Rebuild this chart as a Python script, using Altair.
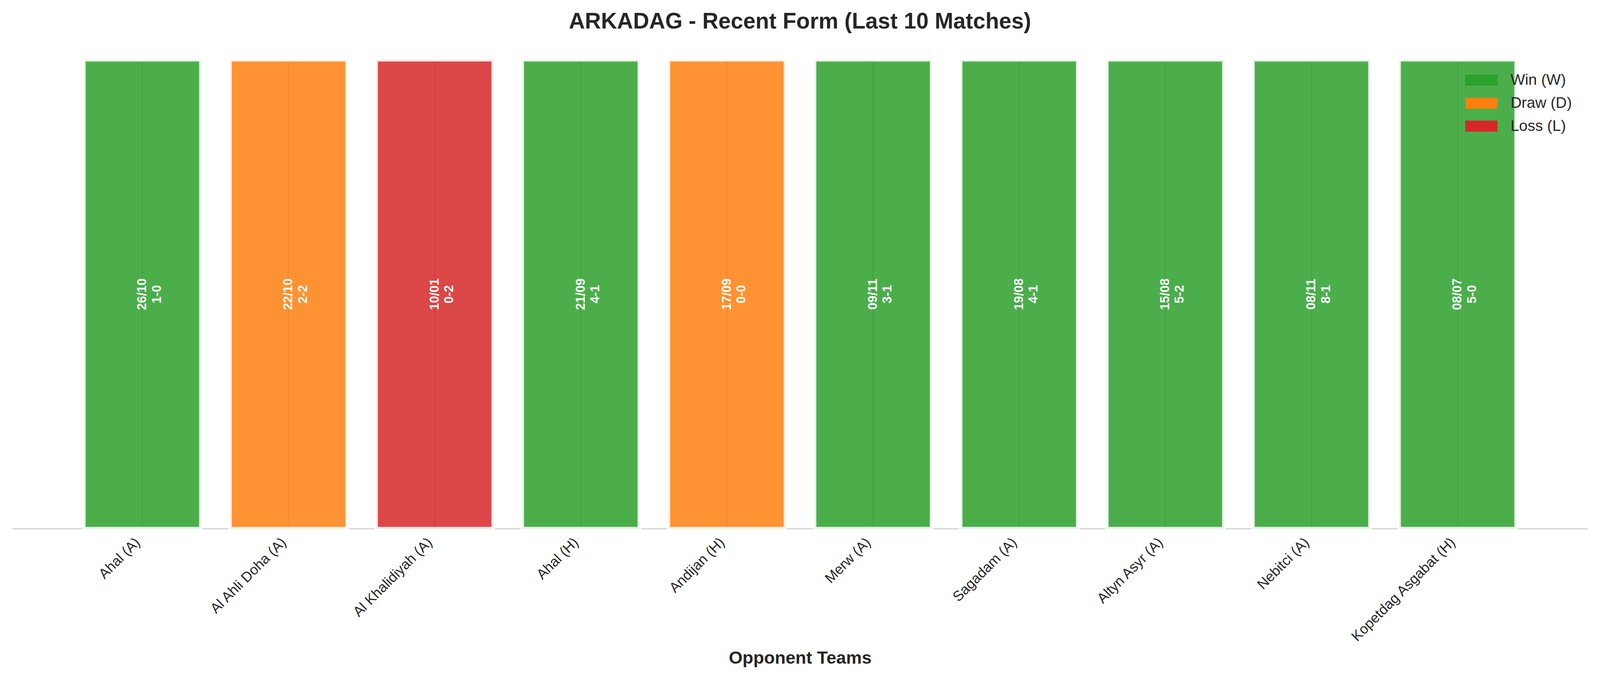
import altair as alt
import pandas as pd

# ---- data ----
opponents = ["Ahal (A)", "Al Ahli Doha (A)", "Al Khalidiyah (A)", "Ahal (H)", "Andijan (H)",
             "Merw (A)", "Sagadam (A)", "Altyn Asyr (A)", "Nebitci (A)", "Kopetdag Asgabat (H)"]
results = ["W", "D", "L", "W", "D", "W", "W", "W", "W", "W"]
dates = ["26/10", "22/10", "10/01", "21/09", "17/09", "09/11", "19/08", "15/08", "08/11", "08/07"]
scores = ["1-0", "2-2", "0-2", "4-1", "0-0", "3-1", "4-1", "5-2", "8-1", "5-0"]
bar_heights = [1, 1, 1, 1, 1, 1, 1, 1, 1, 1]

legend_labels = ["Win (W)", "Draw (D)", "Loss (L)"]
legend_codes = ["W", "D", "L"]
legend_colors = ["#2ca02c", "#ff7f0e", "#d62728"]

code_to_label = dict(zip(legend_codes, legend_labels))

df = pd.DataFrame({
    "opponent": opponents,
    "result": [code_to_label[r] for r in results],
    "label": [d + "\n" + s for d, s in zip(dates, scores)],
    "h": bar_heights,
})
df["mid"] = df["h"] / 2

FONT = "Liberation Sans"
DARK = "#262626"

yscale = alt.Scale(domain=[0, 1.05], nice=False, zero=True)

x_enc = alt.X(
    "opponent:N",
    sort=opponents,
    scale=alt.Scale(paddingInner=0.2, paddingOuter=0.49),
    title="Opponent Teams",
    axis=alt.Axis(
        labelAngle=315,
        labelAlign="right",
        labelBaseline="middle",
        labelPadding=30,
        labelOffset=-12,
        labelFontSize=37,
        labelFont=FONT,
        labelColor=DARK,
        labelLimit=0,
        ticks=False,
        grid=False,
        domainColor="#cccccc",
        domainWidth=2.5,
        titleFont=FONT,
        titleFontSize=46,
        titleFontWeight="bold",
        titleColor=DARK,
        titleY=351,
        titleBaseline="alphabetic",
    ),
)

base = alt.Chart(df)

grid = base.mark_rule(color="#bdbdbd", strokeWidth=3).encode(
    x=x_enc,
    y=alt.Y("h:Q", scale=yscale, axis=None),
    y2=alt.datum(0),
)

bars = base.mark_bar(
    fillOpacity=0.85, stroke="white", strokeWidth=9, strokeOpacity=0.85
).encode(
    x=x_enc,
    y=alt.Y("h:Q", scale=yscale, axis=None),
    color=alt.Color(
        "result:N",
        scale=alt.Scale(domain=legend_labels, range=legend_colors),
        legend=alt.Legend(
            title=None,
            orient="none",
            legendX=3809,
            legendY=94,
            symbolType="M-2.1,-0.72L2.1,-0.72L2.1,0.72L-2.1,0.72Z",
            symbolSize=1600,
            symbolOpacity=1,
            symbolStrokeWidth=0,
            labelFont=FONT,
            labelFontSize=40,
            labelColor=DARK,
            labelOffset=56,
            rowPadding=20,
            padding=0,
        ),
    ),
)

texts = base.mark_text(
    angle=270,
    font=FONT,
    fontSize=33,
    fontWeight="bold",
    color="white",
    lineBreak="\n",
    lineHeight=38,
    align="center",
    baseline="middle",
).encode(
    x=x_enc,
    y=alt.Y("mid:Q", scale=yscale, axis=None),
    text="label:N",
)

chart = alt.layer(grid, bars, texts).properties(
    width=4106,
    height=1283,
    title=alt.TitleParams(
        "ARKADAG - Recent Form (Last 10 Matches)",
        font=FONT,
        fontSize=58,
        fontWeight="bold",
        color=DARK,
        anchor="middle",
        baseline="alphabetic",
        offset=23,
        dy=60,
    ),
    autosize=alt.AutoSizeParams(type="none"),
    padding={"left": 24, "top": 71, "right": 24, "bottom": 375},
).configure_view(stroke=None)

chart.save("out.html", embed_options={"renderer": "svg", "actions": False})
